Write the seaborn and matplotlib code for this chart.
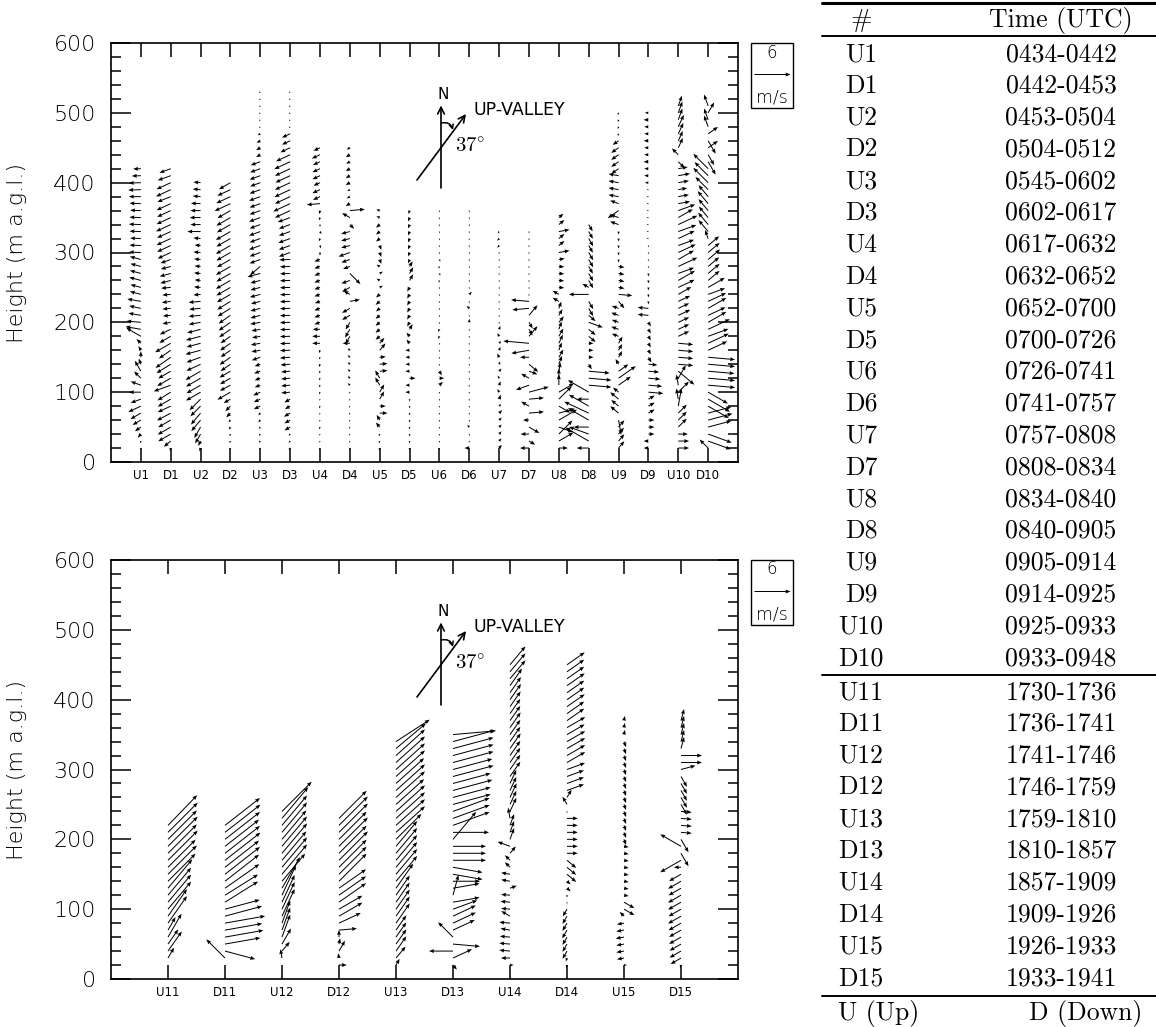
import numpy as np
import pandas as pd
import seaborn as sns
import matplotlib.pyplot as plt
from matplotlib.patches import Rectangle
from matplotlib.lines import Line2D
from matplotlib.ticker import NullLocator

# sodar range gates (m a.g.l.)
gates = [20, 30, 40, 50, 60, 70, 80, 90, 100, 110, 120, 130, 140, 150, 160, 170, 180,
         190, 200, 210, 220, 230, 240, 250, 260, 270, 280, 290, 300, 310, 320, 330,
         340, 350, 360, 370, 380, 390, 400, 410, 420, 430, 440, 450, 460, 470, 480,
         490, 500, 510, 520, 530]

# wind vectors per profile, from the 20 m gate upwards:
# direction the arrow points (deg clockwise from north) and speed (m/s)
U1_dir = [200, 200, 220, 235, 240, 240, 245, 250, 270, 290,
          315, 330, 340, 0, 330, 315, 300, 280, 275, 280,
          282, 280, 285, 285, 285, 285, 285, 285, 272, 272,
          272, 272, 272, 272, 272, 272, 270, 268, 268, 268,
          268]
U1_spd = [0.3, 0.4, 0.8, 1.2, 1.6, 2.0, 2.3, 1.8, 2.0, 1.8,
          1.6, 2.0, 1.0, 1.0, 0.8, 1.0, 2.8, 2.6, 2.4, 2.1,
          2.0, 2.3, 1.9, 1.8, 2.0, 1.9, 1.8, 1.9, 2.0, 1.9,
          1.8, 1.9, 2.0, 1.9, 1.8, 1.9, 2.0, 2.1, 2.0, 1.5,
          1.3]
D1_dir = [200, 230, 240, 240, 240, 242, 245, 240, 238, 250,
          240, 240, 238, 235, 235, 240, 240, 245, 260, 265,
          265, 262, 265, 265, 255, 255, 255, 250, 245, 245,
          245, 245, 245, 245, 245, 245, 248, 245, 245, 250,
          250]
D1_spd = [0.5, 1.5, 2.4, 2.5, 2.4, 2.6, 2.4, 2.5, 2.6, 3.0,
          2.6, 2.4, 2.8, 3.1, 2.4, 3.0, 2.2, 2.0, 1.4, 1.3,
          1.4, 1.5, 1.4, 1.6, 1.8, 1.9, 1.7, 1.8, 2.4, 2.5,
          2.6, 2.5, 2.7, 2.6, 2.5, 2.6, 2.4, 2.7, 2.6, 2.3,
          2.0]
U2_dir = [200, 205, 210, 210, 220, 220, 225, 225, 240, 240,
          240, 240, 245, 250, 255, 255, 255, 255, 260, 265,
          265, 265, 265, 275, 275, 275, 275, 275, 275, 275,
          275, 270, 270, 270, 270, 272, 275, 275, 275]
U2_spd = [0.6, 0.9, 1.8, 2.1, 2.4, 2.5, 2.4, 2.6, 2.8, 2.7,
          2.8, 2.9, 2.6, 2.5, 2.6, 2.4, 2.5, 2.3, 2.0, 2.0,
          1.9, 2.0, 1.2, 1.1, 1.0, 1.1, 1.0, 1.1, 1.2, 1.0,
          1.2, 2.2, 1.7, 1.8, 1.7, 1.6, 1.3, 1.3, 1.2]
D2_dir = [200, 200, 200, 210, 220, 225, 225, 240, 240, 242,
          240, 240, 235, 235, 235, 235, 235, 235, 235, 235,
          238, 238, 240, 240, 240, 240, 240, 240, 240, 240,
          240, 240, 240, 240, 240, 245, 245, 245, 240]
D2_spd = [0.3, 0.4, 0.4, 0.5, 0.5, 1.0, 1.2, 1.3, 2.5, 2.0,
          2.0, 2.1, 2.0, 2.2, 2.0, 2.1, 2.0, 2.3, 2.4, 2.4,
          2.5, 2.6, 2.6, 2.7, 2.8, 2.7, 2.8, 2.6, 2.7, 2.8,
          2.7, 2.8, 2.6, 2.7, 2.5, 2.9, 2.6, 2.4, 2.2]
U3_dir = [220, 220, 220, 220, 220, 220, 245, 245, 245, 250,
          250, 250, 250, 250, 260, 260, 260, 260, 260, 255,
          255, 255, 255, 255, 255, 255, 230, 250, 250, 250,
          250, 250, 250, 250, 250, 250, 250, 250, 250, 250,
          250, 250, 240, 240, 240, 240, 225, 225, 225, 225,
          225, 225]
U3_spd = [0.3, 0.4, 0.4, 0.4, 0.5, 0.5, 1.2, 1.2, 1.3, 1.0,
          1.0, 1.1, 1.0, 1.5, 1.5, 1.6, 1.4, 1.5, 1.7, 1.7,
          1.7, 1.6, 1.8, 1.7, 1.7, 2.2, 2.2, 1.9, 1.9, 2.0,
          1.9, 2.0, 1.9, 2.0, 1.9, 1.9, 2.0, 1.9, 1.8, 1.9,
          1.8, 1.7, 0.8, 0.8, 0.7, 0.5, 0.3, 0.3, 0.3, 0.3,
          0.3, 0.3]
D3_dir = [220, 220, 220, 240, 240, 240, 240, 240, 265, 265,
          265, 265, 265, 265, 268, 268, 268, 268, 268, 268,
          268, 268, 268, 268, 268, 268, 268, 268, 250, 250,
          250, 250, 250, 250, 245, 245, 245, 245, 245, 245,
          245, 245, 245, 245, 245, 245, 225, 225, 225, 225,
          225, 225]
D3_spd = [0.4, 0.4, 0.4, 1.1, 1.1, 1.2, 1.0, 1.1, 1.5, 1.5,
          1.5, 1.5, 1.6, 1.7, 1.7, 1.7, 1.7, 1.7, 1.7, 1.7,
          1.7, 1.7, 1.7, 1.7, 1.7, 1.7, 1.7, 1.8, 2.0, 2.0,
          2.1, 2.0, 2.0, 2.2, 2.8, 3.1, 2.8, 2.9, 2.8, 2.7,
          2.8, 2.9, 2.6, 1.8, 1.5, 1.5, 0.3, 0.3, 0.3, 0.3,
          0.3, 0.3]
U4_dir = [200, 200, 200, 200, 200, 200, 200, 200, 200, 200,
          200, 200, 200, 200, 200, 270, 270, 270, 250, 250,
          250, 250, 250, 250, 250, 250, 250, 250, 180, 160,
          200, 150, 180, 200, 190, 265, 245, 245, 245, 245,
          245, 245, 245, 245]
U4_spd = [0.3, 0.3, 0.3, 0.4, 0.3, 0.3, 0.4, 0.3, 0.4, 0.4,
          0.4, 0.4, 0.5, 0.4, 0.5, 1.3, 1.3, 1.2, 1.0, 1.0,
          1.0, 0.9, 1.0, 1.0, 1.0, 1.0, 1.0, 1.0, 0.5, 0.5,
          0.5, 0.5, 0.4, 0.5, 0.6, 2.2, 1.3, 1.4, 1.2, 1.4,
          1.4, 1.3, 1.5, 1.2]
D4_dir = [200, 200, 200, 200, 200, 200, 200, 200, 200, 315,
          315, 315, 315, 315, 315, 270, 210, 210, 210, 240,
          240, 80, 300, 240, 250, 135, 250, 250, 250, 255,
          255, 255, 135, 300, 85, 240, 240, 240, 240, 240,
          240, 240, 240, 240]
D4_spd = [0.3, 0.3, 0.3, 0.3, 0.3, 0.3, 0.3, 0.3, 0.3, 0.5,
          0.5, 0.5, 0.5, 0.5, 0.5, 1.2, 1.5, 1.6, 1.4, 1.5,
          1.5, 1.7, 1.2, 1.5, 1.5, 2.5, 1.2, 1.5, 2.0, 1.5,
          1.5, 1.5, 1.0, 1.5, 2.5, 0.8, 0.6, 0.5, 0.8, 0.8,
          0.8, 0.7, 0.8, 0.6]
U5_dir = [200, 200, 200, 320, 330, 90, 90, 30, 30, 330,
          330, 85, 85, 85, 40, 40, 230, 230, 230, 230,
          230, 230, 230, 60, 300, 60, 300, 160, 160, 160,
          230, 230, 230, 290, 290]
U5_spd = [0.4, 0.4, 0.4, 1.0, 1.0, 1.3, 1.0, 1.5, 1.5, 1.5,
          1.5, 1.3, 1.3, 1.0, 1.5, 1.2, 0.9, 0.9, 0.9, 0.9,
          0.8, 0.9, 0.8, 0.6, 0.6, 0.6, 0.6, 0.8, 0.8, 0.8,
          0.8, 0.8, 0.8, 0.6, 0.6]
D5_dir = [180, 180, 180, 180, 180, 180, 180, 180, 270, 270,
          90, 270, 270, 270, 270, 320, 320, 30, 210, 210,
          210, 210, 210, 210, 30, 30, 30, 200, 200, 200,
          200, 200, 200, 200, 200]
D5_spd = [0.4, 0.4, 0.4, 0.4, 0.4, 0.4, 0.4, 0.4, 0.7, 0.7,
          1.0, 0.7, 0.7, 0.7, 0.7, 0.8, 0.8, 1.0, 0.8, 0.8,
          0.8, 0.8, 0.8, 0.8, 1.2, 1.2, 1.0, 0.7, 0.7, 0.7,
          0.7, 0.7, 0.7, 0.7, 0.6]
U6_dir = [180, 180, 180, 180, 180, 180, 180, 180, 180, 45,
          90, 150, 180, 180, 180, 180, 210, 210, 180, 180,
          180, 180, 180, 180, 200, 160, 200, 160, 180, 180,
          180, 180, 180, 180, 180]
U6_spd = [0.3, 0.3, 0.3, 0.3, 0.3, 0.3, 0.3, 0.3, 0.3, 0.8,
          0.8, 0.8, 0.3, 0.3, 0.3, 0.3, 0.5, 0.5, 0.3, 0.3,
          0.3, 0.3, 0.3, 0.3, 0.4, 0.4, 0.4, 0.4, 0.3, 0.3,
          0.3, 0.3, 0.3, 0.3, 0.3]
D6_dir = [270, 180, 180, 315, 180, 180, 180, 180, 180, 180,
          180, 180, 180, 180, 180, 180, 180, 180, 0, 180,
          315, 180, 45, 180, 180, 180, 180, 180, 180, 180,
          180, 180, 180, 180, 180]
D6_spd = [0.8, 0.3, 0.3, 0.5, 0.3, 0.3, 0.3, 0.3, 0.3, 0.3,
          0.3, 0.3, 0.3, 0.3, 0.3, 0.3, 0.3, 0.3, 0.6, 0.3,
          0.6, 0.3, 0.6, 0.3, 0.3, 0.3, 0.3, 0.3, 0.3, 0.3,
          0.3, 0.3, 0.3, 0.3, 0.3]
U7_dir = [40, 40, 40, 45, 45, 45, 40, 20, 330, 20,
          330, 40, 20, 330, 20, 40, 330, 20, 180, 180,
          180, 180, 180, 180, 180, 180, 180, 180, 180, 220,
          220, 220]
U7_spd = [0.7, 0.6, 0.6, 0.6, 0.6, 0.7, 0.5, 0.8, 0.6, 0.7,
          0.5, 0.6, 0.5, 0.7, 0.6, 0.5, 0.6, 0.6, 0.3, 0.3,
          0.3, 0.3, 0.3, 0.3, 0.3, 0.3, 0.3, 0.3, 0.3, 0.5,
          0.5, 0.4]
D7_dir = [270, 120, 270, 120, 270, 85, 300, 85, 75, 250,
          300, 110, 130, 270, 260, 275, 40, 150, 150, 40,
          265, 275, 180, 180, 180, 180, 180, 180, 180, 180,
          180, 180]
D7_spd = [1.5, 1.2, 1.4, 2.0, 1.0, 2.5, 1.5, 2.5, 3.4, 2.3,
          1.5, 1.5, 2.0, 1.5, 3.0, 4.3, 2.2, 1.2, 1.2, 2.2,
          2.8, 3.0, 0.3, 0.3, 0.3, 0.3, 0.3, 0.3, 0.3, 0.3,
          0.3, 0.3]
U8_dir = [90, 60, 45, 110, 60, 75, 120, 45, 60, 0,
          0, 10, 20, 30, 20, 25, 30, 20, 40, 30,
          20, 300, 300, 95, 95, 95, 95, 80, 80, 50,
          50, 80, 50, 50]
U8_spd = [1.5, 2.8, 3.2, 2.5, 3.5, 2.8, 2.2, 3.0, 2.9, 1.8,
          1.6, 1.5, 1.5, 1.5, 1.4, 1.6, 1.5, 1.4, 1.3, 1.2,
          1.2, 1.2, 1.2, 0.9, 0.9, 0.9, 0.9, 1.0, 1.8, 1.2,
          1.2, 1.8, 1.2, 1.0]
D8_dir = [270, 300, 290, 270, 300, 295, 300, 270, 300, 95,
          95, 95, 150, 90, 90, 90, 130, 130, 110, 130,
          150, 150, 270, 300, 150, 150, 150, 150, 150, 150,
          150, 150, 150]
D8_spd = [2.0, 4.5, 3.5, 2.5, 4.0, 4.5, 3.8, 2.0, 4.0, 3.8,
          3.8, 3.5, 1.0, 0.8, 0.8, 0.8, 1.5, 1.5, 2.5, 1.5,
          1.5, 1.5, 3.3, 1.2, 1.5, 1.5, 1.4, 1.5, 1.5, 1.4,
          1.5, 1.4, 1.3]
U9_dir = [40, 40, 40, 40, 170, 310, 310, 310, 310, 55,
          55, 55, 330, 30, 30, 30, 290, 290, 290, 290,
          290, 140, 95, 100, 100, 100, 100, 180, 180, 180,
          180, 180, 290, 290, 235, 290, 280, 280, 280, 280,
          235, 235, 235, 235, 235, 200, 200, 200, 200]
U9_spd = [1.5, 1.5, 1.4, 1.5, 2.5, 1.8, 1.6, 1.8, 1.2, 2.5,
          3.5, 2.0, 1.0, 1.2, 1.2, 1.3, 1.2, 1.3, 1.2, 1.3,
          1.2, 1.5, 2.3, 1.0, 1.0, 1.0, 1.0, 0.5, 0.5, 0.5,
          0.5, 0.5, 1.5, 1.5, 2.2, 1.5, 1.7, 1.7, 1.7, 1.7,
          1.5, 1.5, 1.5, 1.5, 1.2, 0.4, 0.4, 0.4, 0.4]
D9_dir = [270, 270, 90, 90, 90, 60, 60, 60, 95, 95,
          95, 95, 95, 150, 150, 150, 150, 150, 150, 275,
          275, 180, 180, 180, 180, 180, 180, 180, 180, 180,
          270, 270, 270, 270, 270, 270, 270, 270, 270, 270,
          270, 270, 270, 270, 270, 270, 270, 270, 270]
D9_spd = [0.8, 0.8, 1.0, 1.0, 1.0, 1.2, 1.2, 1.2, 2.5, 2.3,
          2.0, 1.8, 1.5, 1.0, 0.8, 0.8, 0.8, 0.8, 0.8, 1.8,
          1.8, 0.5, 0.5, 0.5, 0.5, 0.5, 0.3, 0.3, 0.3, 0.3,
          0.3, 0.3, 0.3, 0.3, 0.3, 0.3, 0.3, 0.3, 0.6, 0.7,
          0.7, 0.8, 0.7, 0.7, 0.8, 0.7, 0.7, 0.8, 0.6]
U10_dir = [90, 90, 90, 45, 45, 45, 10, 350, 45, 350,
           30, 130, 95, 95, 95, 95, 65, 65, 65, 65,
           65, 65, 60, 65, 60, 70, 65, 60, 65, 70,
           65, 70, 65, 60, 70, 80, 80, 80, 80, 80,
           80, 135, 315, 25, 25, 25, 25, 20, 20, 20]
U10_spd = [1.8, 1.8, 1.6, 2.0, 2.0, 2.0, 3.0, 1.8, 2.5, 1.8,
           2.5, 3.5, 2.5, 2.5, 2.5, 2.5, 2.0, 2.0, 2.0, 2.2,
           2.0, 2.2, 2.5, 3.0, 3.2, 2.8, 3.5, 3.0, 3.2, 2.8,
           3.0, 3.2, 3.5, 2.8, 3.0, 2.0, 1.8, 1.5, 1.8, 2.0,
           1.6, 1.5, 1.5, 1.8, 1.8, 2.0, 2.2, 2.0, 2.0, 1.8]
D10_dir = [315, 110, 110, 75, 75, 75, 120, 120, 120, 95,
           95, 95, 95, 95, 65, 65, 70, 65, 60, 65,
           60, 65, 70, 60, 50, 50, 50, 50, 50, 50,
           340, 320, 320, 320, 320, 320, 320, 315, 315, 315,
           315, 150, 150, 55, 150, 55, 340, 340, 30, 340]
D10_spd = [2.0, 4.0, 4.2, 4.0, 4.2, 4.0, 4.0, 4.2, 3.8, 4.5,
           4.5, 4.4, 4.5, 4.5, 3.5, 3.8, 3.6, 4.0, 3.5, 3.2,
           3.5, 3.3, 3.0, 3.2, 2.5, 2.5, 2.4, 2.6, 2.5, 2.4,
           1.5, 2.5, 2.6, 2.4, 2.5, 2.7, 2.5, 3.0, 3.5, 3.2,
           3.5, 2.5, 2.0, 2.0, 2.5, 2.0, 2.0, 2.0, 2.0, 2.0]

U11_dir = [None, 30, 35, 35, 30, 30, 35, 35, 40, 40,
           40, 40, 45, 45, 45, 45, 45, 45, 45, 45,
           44]
U11_spd = [None, 2.0, 4.0, 3.0, 4.5, 2.5, 5.5, 5.5, 6.0, 6.0,
           6.0, 6.3, 6.5, 6.8, 6.5, 7.0, 6.8, 7.0, 6.8, 7.0,
           7.0]
D11_dir = [None, 315, 105, 80, 80, 80, 80, 75, 75, 58,
           58, 55, 52, 52, 52, 52, 52, 52, 52, 52,
           52]
D11_spd = [None, 4.4, 5.2, 6.0, 6.5, 6.3, 6.8, 6.4, 6.0, 6.5,
           6.5, 7.0, 7.2, 7.4, 7.2, 7.5, 7.4, 7.2, 7.4, 7.5,
           7.4]
U12_dir = [None, 350, 40, 30, 20, 20, 20, 25, 25, 25,
           25, 30, 40, 40, 40, 40, 40, 40, 40, 40,
           40, 40, 45]
U12_spd = [None, 1.5, 2.0, 3.0, 4.0, 4.0, 4.0, 5.0, 5.0, 5.0,
           5.5, 6.0, 6.0, 6.5, 6.5, 6.3, 6.5, 6.5, 6.3, 6.5,
           6.5, 6.8, 7.0]
D12_dir = [90, 350, 30, 10, 0, 85, 65, 60, 60, 55,
           55, 55, 45, 45, 45, 45, 45, 45, 45, 45,
           45, 45]
D12_spd = [1.3, 0.8, 2.0, 1.0, 1.2, 3.0, 4.0, 4.5, 4.5, 5.5,
           5.5, 5.5, 6.5, 6.5, 6.5, 6.8, 6.5, 6.8, 6.5, 6.8,
           6.8, 6.5]
U13_dir = [30, 40, 35, 35, 35, 35, 35, 35, 35, 35,
           35, 35, 40, 40, 40, 40, 40, 40, 45, 48,
           48, 48, 48, 48, 48, 48, 48, 48, 48, 48,
           48, 50, 57]
U13_spd = [1.2, 2.5, 3.0, 3.0, 3.0, 3.0, 4.0, 4.0, 4.0, 4.0,
           4.0, 5.0, 5.5, 5.5, 5.5, 5.5, 5.5, 5.5, 6.0, 6.5,
           6.5, 6.5, 6.5, 6.3, 6.5, 6.5, 6.3, 6.5, 6.5, 6.5,
           6.5, 6.5, 6.7]
D13_dir = [140, 65, 270, 95, 315, 65, 65, 65, 70, 80,
           15, 80, 90, 100, 100, 90, 90, 90, 40, 90,
           70, 70, 70, 75, 75, 75, 75, 75, 75, 75,
           75, 75, 75, 85]
D13_spd = [1.0, 3.5, 4.0, 4.5, 3.5, 4.0, 4.2, 4.2, 4.3, 4.5,
           3.5, 4.5, 4.5, 5.0, 5.0, 5.5, 5.5, 5.5, 6.0, 6.0,
           6.5, 6.5, 6.5, 6.5, 6.5, 6.8, 6.5, 7.0, 6.8, 7.0,
           7.0, 7.0, 7.2, 7.2]
U14_dir = [90, 270, 275, 275, 275, 280, 275, 300, 275, 275,
           275, 70, 280, 280, 315, 315, 40, 290, 20, 20,
           20, 350, 25, 25, 25, 25, 25, 35, 35, 35,
           35, 35, 35, 35, 35, 35, 35, 35, 35, 35,
           35, 40, 40, 40]
U14_spd = [0.6, 1.5, 1.8, 1.8, 1.7, 1.6, 1.8, 1.7, 1.5, 1.6,
           1.5, 1.2, 1.5, 1.5, 1.2, 1.2, 1.5, 2.2, 2.0, 2.0,
           2.0, 1.8, 2.5, 2.5, 2.6, 2.5, 2.5, 3.0, 3.0, 3.0,
           3.0, 3.1, 3.0, 3.0, 3.1, 3.0, 3.0, 3.1, 3.2, 3.2,
           3.5, 4.0, 4.0, 4.0]
D14_dir = [200, 200, 210, 210, 210, 210, 210, 210, 210, 180,
           180, 130, 130, 130, 130, 130, 90, 90, 90, 90,
           90, 90, 180, 330, 30, 70, 70, 70, 70, 60,
           60, 60, 60, 60, 60, 55, 55, 55, 55, 55,
           55, 55, 55, 55]
D14_spd = [0.5, 0.6, 1.5, 1.5, 1.5, 1.6, 1.5, 1.5, 1.4, 0.3,
           0.4, 0.8, 0.8, 2.0, 2.0, 2.0, 1.8, 1.8, 1.8, 1.8,
           1.8, 1.8, 0.3, 1.5, 1.5, 3.0, 3.0, 3.0, 3.2, 3.5,
           3.5, 3.5, 3.5, 3.4, 3.5, 3.5, 3.5, 3.6, 3.5, 3.5,
           3.6, 3.5, 3.5, 3.6]
U15_dir = [90, 260, 260, 260, 260, 260, 260, 315, 120, 120,
           100, 100, 100, 100, 100, 100, 100, 100, 160, 160,
           160, 160, 160, 160, 160, 160, 160, 160, 160, 160,
           160, 160, 160, 10, 10, 10]
U15_spd = [0.5, 1.2, 1.3, 1.3, 1.4, 1.3, 1.2, 1.0, 2.0, 2.0,
           0.8, 0.8, 0.8, 0.8, 0.8, 0.8, 0.8, 0.8, 1.0, 1.0,
           1.0, 1.0, 1.0, 1.0, 1.0, 1.0, 1.0, 1.0, 1.0, 1.0,
           1.0, 1.0, 1.0, 0.8, 0.8, 0.8]
D15_dir = [200, 240, 240, 240, 240, 240, 240, 240, 240, 240,
           240, 240, 240, 240, 270, 240, 150, 300, 150, 95,
           95, 95, 95, 150, 150, 150, 150, 150, 75, 90,
           90, 15, 15, 15, 15, 15]
D15_spd = [0.5, 2.0, 2.2, 2.2, 2.3, 2.3, 2.4, 2.5, 2.4, 2.5,
           2.5, 2.4, 2.5, 2.3, 1.2, 4.0, 2.5, 4.0, 2.5, 1.8,
           1.8, 1.8, 1.8, 2.0, 2.0, 2.0, 2.0, 2.0, 2.5, 3.5,
           3.5, 2.0, 2.0, 2.0, 2.0, 2.0]

morning_names = ['U1', 'D1', 'U2', 'D2', 'U3', 'D3', 'U4', 'D4', 'U5', 'D5',
                 'U6', 'D6', 'U7', 'D7', 'U8', 'D8', 'U9', 'D9', 'U10', 'D10']
morning_dirs = [U1_dir, D1_dir, U2_dir, D2_dir, U3_dir, D3_dir, U4_dir, D4_dir, U5_dir, D5_dir,
                U6_dir, D6_dir, U7_dir, D7_dir, U8_dir, D8_dir, U9_dir, D9_dir, U10_dir, D10_dir]
morning_spds = [U1_spd, D1_spd, U2_spd, D2_spd, U3_spd, D3_spd, U4_spd, D4_spd, U5_spd, D5_spd,
                U6_spd, D6_spd, U7_spd, D7_spd, U8_spd, D8_spd, U9_spd, D9_spd, U10_spd, D10_spd]
evening_names = ['U11', 'D11', 'U12', 'D12', 'U13', 'D13', 'U14', 'D14', 'U15', 'D15']
evening_dirs = [U11_dir, D11_dir, U12_dir, D12_dir, U13_dir, D13_dir, U14_dir, D14_dir, U15_dir, D15_dir]
evening_spds = [U11_spd, D11_spd, U12_spd, D12_spd, U13_spd, D13_spd, U14_spd, D14_spd, U15_spd, D15_spd]

times = ['0434-0442', '0442-0453', '0453-0504', '0504-0512', '0545-0602', '0602-0617',
         '0617-0632', '0632-0652', '0652-0700', '0700-0726', '0726-0741', '0741-0757',
         '0757-0808', '0808-0834', '0834-0840', '0840-0905', '0905-0914', '0914-0925',
         '0925-0933', '0933-0948',
         '1730-1736', '1736-1741', '1741-1746', '1746-1759', '1759-1810', '1810-1857',
         '1857-1909', '1909-1926', '1926-1933', '1933-1941']

sns.set_theme(style='ticks')
plt.rcParams['font.family'] = ['DejaVu Sans']
plt.rcParams['font.weight'] = 'light'
plt.rcParams['axes.labelweight'] = 'light'
plt.rcParams['mathtext.fontset'] = 'cm'
plt.rcParams['axes.linewidth'] = 1.2
plt.rcParams['axes.edgecolor'] = 'black'
for key in ['text.color', 'axes.labelcolor', 'xtick.color', 'ytick.color',
            'xtick.labelcolor', 'ytick.labelcolor']:
    plt.rcParams[key] = 'black'

W, H = 1156, 1027
fig = plt.figure(figsize=(W / 100, H / 100), dpi=100)
fig.patch.set_facecolor('white')


def to_frame(names, dirs, spds):
    rows = []
    for k, (nm, d, s) in enumerate(zip(names, dirs, spds)):
        for h, dd, ss in zip(gates, d, s):
            if dd is None or ss is None:
                continue
            r = np.radians(dd)
            rows.append((k + 1, nm, h, ss * np.sin(r), ss * np.cos(r)))
    return pd.DataFrame(rows, columns=['pos', 'profile', 'height', 'u', 'v'])


def draw_panel(top_px, names, dirs, spds):
    ax = fig.add_axes([111 / W, 1 - (top_px + 419) / H, 627 / W, 419 / H])
    df = to_frame(names, dirs, spds)
    q = ax.quiver(df['pos'], df['height'], df['u'], df['v'], angles='uv',
                  scale_units='inches', scale=100 / 6, units='dots', width=1.0,
                  headwidth=4, headlength=5, headaxislength=4.5, minlength=0.6,
                  pivot='tail', color='black')
    n = len(names)
    ax.set_xlim(0, n + 1)
    ax.set_ylim(0, 600)
    ax.set_xticks(range(1, n + 1))
    ax.set_xticklabels(names, fontweight='normal')
    ax.xaxis.set_minor_locator(NullLocator())
    ax.set_yticks(range(0, 601, 100))
    ax.set_yticks(range(0, 601, 20), minor=True)
    ax.tick_params(axis='x', which='major', direction='in', top=True, bottom=True,
                   length=10, width=1.1, labelsize=8.5, pad=5, color='black')
    ax.tick_params(axis='y', which='major', direction='in', left=True, right=True,
                   length=14.4, width=1.1, labelsize=16, pad=11, color='black')
    ax.tick_params(axis='y', which='minor', direction='in', left=True, right=True,
                   length=7.2, width=1.1, color='black')
    ax.set_ylabel('Height (m a.g.l.)', fontsize=16)
    ax.yaxis.set_label_coords(-0.134, 0.5)
    ax.set_facecolor('white')
    for sp in ax.spines.values():
        sp.set_color('black')

    # compass: north and up-valley axis
    kw = dict(xycoords='axes fraction', textcoords='axes fraction')
    ax.annotate('', xy=(0.5263, 0.851), xytext=(0.5263, 0.654),
                arrowprops=dict(arrowstyle='->', lw=1.2, color='black',
                                shrinkA=0, shrinkB=0, mutation_scale=12), **kw)
    ax.annotate('', xy=(0.5662, 0.8305), xytext=(0.488, 0.673),
                arrowprops=dict(arrowstyle='->', lw=1.2, color='black',
                                shrinkA=0, shrinkB=0, mutation_scale=12), **kw)
    ax.annotate('', xy=(0.5455, 0.7924), xytext=(0.5263, 0.809),
                arrowprops=dict(arrowstyle='->', lw=1.1, color='black', shrinkA=0,
                                shrinkB=0, mutation_scale=7,
                                connectionstyle='arc3,rad=-0.45'), **kw)
    ax.text(0.5295, 0.878, 'N', transform=ax.transAxes, ha='center', va='center',
            fontsize=11, fontweight='normal')
    ax.text(0.5774, 0.840, 'UP-VALLEY', transform=ax.transAxes, ha='left',
            va='center', fontsize=12.5, fontweight='normal')
    ax.text(0.5486, 0.754, r'$37^{\circ}$', transform=ax.transAxes, ha='left',
            va='center', fontsize=15)

    # velocity key box
    fig.add_artist(Rectangle((751 / W, 1 - (top_px + 65) / H), 42 / W, 65 / H,
                             transform=fig.transFigure, fill=False, lw=1.0,
                             edgecolor='black'))
    fig.text(772 / W, 1 - (top_px + 9.5) / H, '6', ha='center', va='center', fontsize=12)
    fig.text(772 / W, 1 - (top_px + 54.5) / H, 'm/s', ha='center', va='center', fontsize=12.5)
    ax.quiverkey(q, 772 / W, 1 - (top_px + 30.5) / H, 6, '', coordinates='figure',
                 labelpos='N', color='black')
    return ax


draw_panel(43, morning_names, morning_dirs, morning_spds)
draw_panel(560, evening_names, evening_dirs, evening_spds)

# table of profile times
ids = morning_names + evening_names
tkw = dict(fontfamily='cmr10', fontsize=18.5, fontweight='normal')
col1, col2 = 861 / W, 1061 / W
fig.text(col1, 1 - 27 / H, '#', ha='center', va='baseline', **tkw)
fig.text(col2, 1 - 27 / H, 'Time (UTC)', ha='center', va='baseline', **tkw)
for i, (nm, tm) in enumerate(zip(ids, times)):
    base = 61 + 31.8 * i if i < 20 else 699 + 31.8 * (i - 20)
    fig.text(col1, 1 - base / H, nm, ha='center', va='baseline', **tkw)
    fig.text(col2, 1 - base / H, tm, ha='center', va='baseline', **tkw)
fig.text(838 / W, 1 - 1020 / H, 'U (Up)', ha='left', va='baseline', **tkw)
fig.text(1142 / W, 1 - 1020 / H, 'D (Down)', ha='right', va='baseline', **tkw)
for ypx, lw in [(3.3, 2.2), (36, 1.4), (675, 1.4), (996, 1.4)]:
    fig.add_artist(Line2D([822 / W, 1.0], [1 - ypx / H, 1 - ypx / H],
                          transform=fig.transFigure, color='black', lw=lw))

fig.savefig('out.png', dpi=100, facecolor='white')
